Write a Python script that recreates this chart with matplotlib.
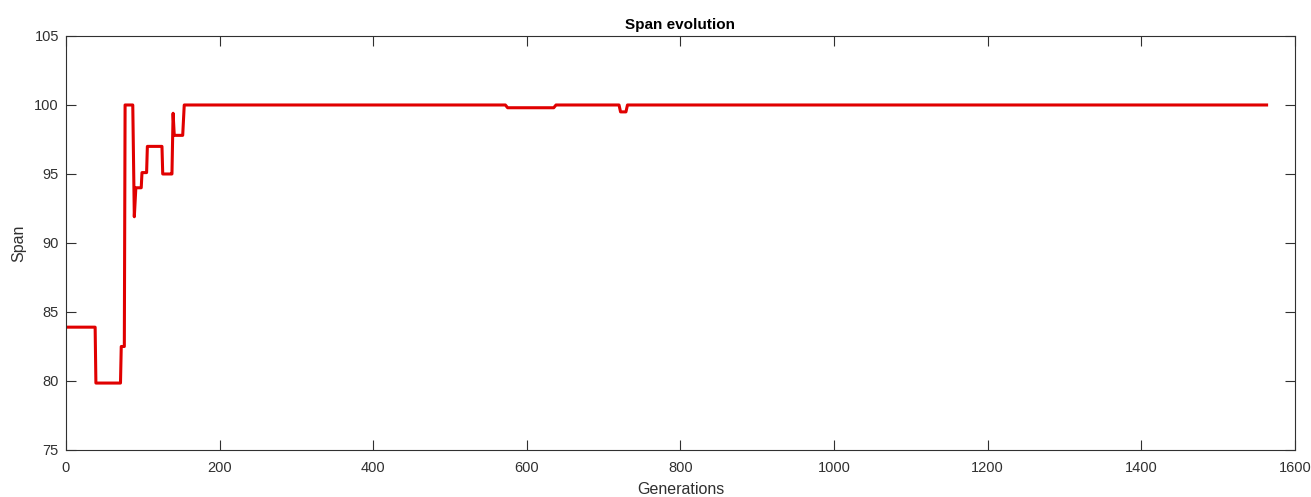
import matplotlib.pyplot as plt
import numpy as np

plt.rcParams['font.family'] = ['Liberation Sans', 'DejaVu Sans']

generations = [0, 38, 39, 71, 72, 76, 77, 87, 89, 91, 98, 99, 105, 106, 125, 126,
               137, 138, 139.5, 141, 152, 154, 572, 575, 635, 638, 720, 722, 729, 731, 1563]
span = [83.9, 83.9, 79.85, 79.85, 82.5, 82.5, 100, 100, 91.9, 94.0, 94.0, 95.1, 95.1, 97.0, 97.0, 95.0,
        95.0, 95.0, 99.4, 97.8, 97.8, 100, 100, 99.8, 99.8, 100, 100, 99.5, 99.5, 100, 100]

axis_col = '#303030'

fig = plt.figure(figsize=(13.11, 4.97), dpi=100)
ax = fig.add_axes([0.0503, 0.0946, 0.9375, 0.833])
ax.plot(generations, span, color='#e00000', linewidth=2.2, solid_joinstyle='round')

ax.set_xlim(0, 1600)
ax.set_ylim(75, 105)
ax.set_xticks(np.arange(0, 1601, 200))
ax.set_yticks(np.arange(75, 106, 5))
ax.tick_params(direction='in', top=True, right=True, length=7, width=0.8,
               colors=axis_col, labelsize=10.5)
ax.tick_params(axis='x', pad=8)
ax.tick_params(axis='y', pad=5)
for s in ax.spines.values():
    s.set_color(axis_col)
    s.set_linewidth(0.8)

# the label sits right at the bottom edge, as in the reference
ax.set_xlabel('Generations', fontsize=11.5, color=axis_col, labelpad=5)
ax.set_ylabel('Span', fontsize=11.5, color=axis_col, labelpad=6)
ax.set_title('Span evolution', fontsize=11, fontweight='bold', color='black', pad=5)

fig.savefig('out.png', dpi=100)
